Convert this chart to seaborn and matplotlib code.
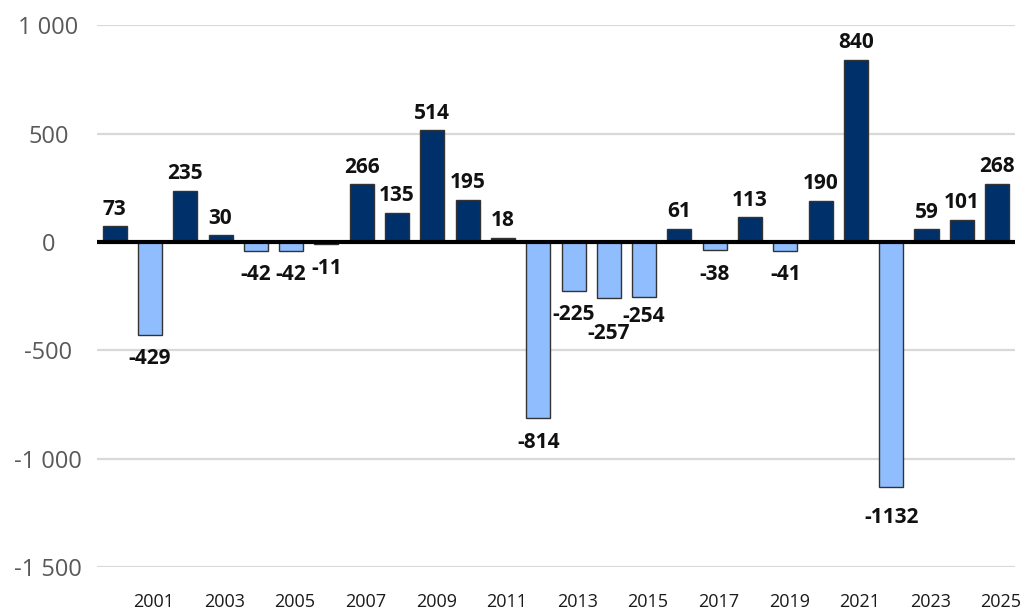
import matplotlib
matplotlib.use("Agg")
import matplotlib.pyplot as plt
import matplotlib.transforms as mtransforms
import seaborn as sns
import pandas as pd

# Annual net change, 2000-2025
years = list(range(2000, 2026))
values = [73, -429, 235, 30, -42, -42, -11, 266, 135, 514, 195, 18, -814,
          -225, -257, -254, 61, -38, 113, -41, 190, 840, -1132, 59, 101, 268]
y_ticks = [-1500, -1000, -500, 0, 500, 1000]

POS_COLOR = "#003069"
NEG_COLOR = "#8fbdfd"

df = pd.DataFrame({
    "year": [str(y) for y in years],
    "value": values,
    "sign": ["pos" if v >= 0 else "neg" for v in values],
})

sns.set_theme(style="white")
plt.rcParams["font.family"] = ["Open Sans", "DejaVu Sans"]

fig = plt.figure(figsize=(10.25, 6.13), dpi=100)
ax = fig.add_axes([0.0946, 0.075, 0.8954, 0.884])

sns.barplot(data=df, x="year", y="value", hue="sign",
            palette={"pos": POS_COLOR, "neg": NEG_COLOR}, saturation=1,
            dodge=False, width=0.68, edgecolor="#333333", linewidth=1.0,
            legend=False, ax=ax, zorder=3)

ax.set_ylim(-1500, 1000)
ax.set_xlim(-0.5, len(years) - 0.5)
ax.set_yticks(y_ticks)
ax.set_yticklabels([f"{t:,}".replace(",", " ") for t in y_ticks],
                   fontsize=17, color="#595959", ha="center")
ax.tick_params(axis="y", length=0, pad=35)
ax.yaxis.grid(True, color="#d9d9d9", linewidth=1.6, zorder=0)
ax.set_axisbelow(True)

# every other year on the category axis
tick_pos = [i for i, y in enumerate(years) if y % 2 == 1]
ax.set_xticks(tick_pos)
ax.set_xticklabels([str(years[i]) for i in tick_pos], fontsize=13,
                   color="#1a1a1a")
ax.tick_params(axis="x", length=0, pad=19)
shift = mtransforms.ScaledTranslation(4 / 100, 0, fig.dpi_scale_trans)
for lbl in ax.get_xticklabels():
    lbl.set_transform(lbl.get_transform() + shift)

ax.set_xlabel("")
ax.set_ylabel("")
for s in ax.spines.values():
    s.set_visible(False)

ax.axhline(0, color="black", linewidth=3, zorder=4)

# value labels; a few are nudged (in pixels) so neighbours do not collide
label_nudge = {2014: 12, 2015: -4, 2022: 6}
px = 72 / 100
for i, (yr, v) in enumerate(zip(years, values)):
    if v >= 0:
        dy = 17
    else:
        dy = -(24 + label_nudge.get(yr, 0))
    ax.annotate(f"{v}", xy=(i, v), xytext=(0, dy * px),
                textcoords="offset points", ha="center", va="center",
                fontsize=15, fontweight="bold", color="#111111", zorder=5)

fig.savefig("out.png", dpi=100)
